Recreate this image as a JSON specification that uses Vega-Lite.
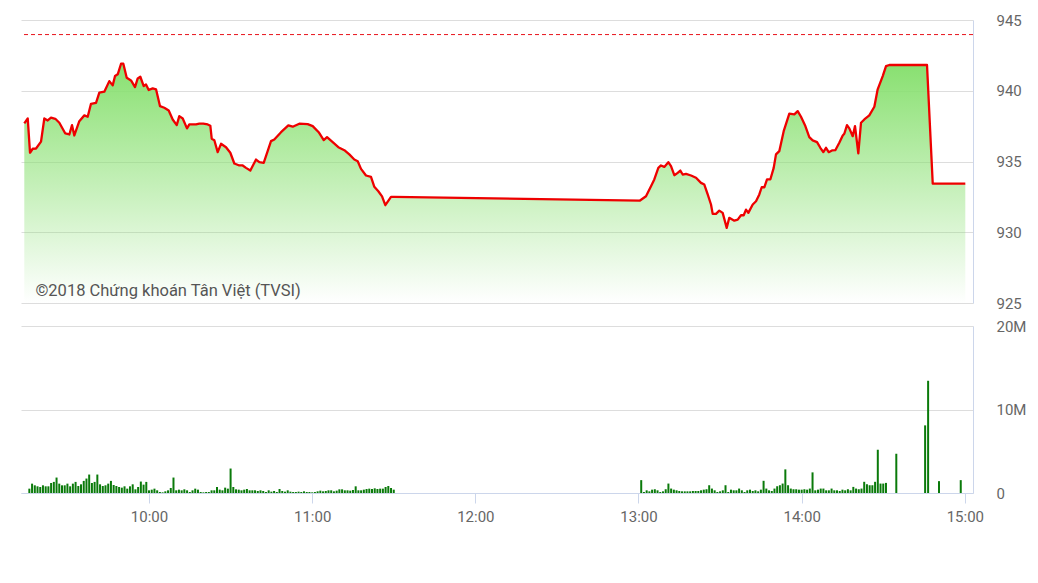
{
  "$schema": "https://vega.github.io/schema/vega-lite/v6.json",
  "background": "white",
  "padding": {"left": 20, "top": 13, "right": 0, "bottom": 0},
  "spacing": 23,
  "bounds": "flush",
  "config": {"view": {"stroke": null}, "font": "Roboto"},
  "vconcat": [
    {
      "width": 952,
      "height": 283,
      "layer": [
        {
          "data": {
            "format": {"parse": {"t": "date:'%H:%M:%S'"}},
            "values": [
              {"t": "09:15:58", "v": 937.69}, {"t": "09:17:13", "v": 938.04}, {"t": "09:18:03", "v": 935.62},
              {"t": "09:19:02", "v": 935.90}, {"t": "09:20:14", "v": 935.92}, {"t": "09:22:03", "v": 936.40},
              {"t": "09:23:15", "v": 938.04}, {"t": "09:24:29", "v": 937.90}, {"t": "09:25:41", "v": 938.10},
              {"t": "09:27:15", "v": 938.02}, {"t": "09:28:43", "v": 937.74}, {"t": "09:30:53", "v": 936.98},
              {"t": "09:32:21", "v": 936.91}, {"t": "09:33:20", "v": 937.57}, {"t": "09:34:10", "v": 936.84},
              {"t": "09:35:59", "v": 937.85}, {"t": "09:37:49", "v": 938.26}, {"t": "09:39:02", "v": 938.16},
              {"t": "09:40:14", "v": 939.08}, {"t": "09:42:04", "v": 939.15}, {"t": "09:43:16", "v": 939.86},
              {"t": "09:45:05", "v": 939.93}, {"t": "09:46:54", "v": 940.68}, {"t": "09:48:08", "v": 940.38},
              {"t": "09:48:59", "v": 941.04}, {"t": "09:49:58", "v": 941.16}, {"t": "09:51:10", "v": 941.91},
              {"t": "09:52:00", "v": 941.91}, {"t": "09:53:14", "v": 940.92}, {"t": "09:54:48", "v": 940.73},
              {"t": "09:56:15", "v": 940.26}, {"t": "09:57:14", "v": 940.87}, {"t": "09:58:11", "v": 940.99},
              {"t": "09:59:25", "v": 940.33}, {"t": "10:00:15", "v": 940.45}, {"t": "10:01:14", "v": 940.05},
              {"t": "10:02:41", "v": 940.17}, {"t": "10:03:54", "v": 940.10}, {"t": "10:05:21", "v": 938.91},
              {"t": "10:06:55", "v": 938.80}, {"t": "10:08:31", "v": 938.61}, {"t": "10:09:58", "v": 937.97},
              {"t": "10:11:26", "v": 937.57}, {"t": "10:12:22", "v": 938.21}, {"t": "10:13:37", "v": 938.04},
              {"t": "10:15:10", "v": 937.34}, {"t": "10:16:01", "v": 937.62}, {"t": "10:18:27", "v": 937.62},
              {"t": "10:19:39", "v": 937.67}, {"t": "10:21:06", "v": 937.67}, {"t": "10:22:42", "v": 937.62},
              {"t": "10:23:39", "v": 937.53}, {"t": "10:24:10", "v": 936.61}, {"t": "10:25:07", "v": 936.50},
              {"t": "10:26:20", "v": 935.66}, {"t": "10:27:33", "v": 936.25}, {"t": "10:29:22", "v": 936.01},
              {"t": "10:30:56", "v": 935.62}, {"t": "10:32:23", "v": 934.86}, {"t": "10:34:12", "v": 934.72},
              {"t": "10:35:26", "v": 934.72}, {"t": "10:36:38", "v": 934.55}, {"t": "10:38:13", "v": 934.36},
              {"t": "10:40:17", "v": 935.14}, {"t": "10:41:29", "v": 934.95}, {"t": "10:43:05", "v": 934.91},
              {"t": "10:45:44", "v": 936.44}, {"t": "10:46:56", "v": 936.56}, {"t": "10:49:23", "v": 937.07},
              {"t": "10:52:02", "v": 937.55}, {"t": "10:53:38", "v": 937.46}, {"t": "10:56:02", "v": 937.67},
              {"t": "10:59:05", "v": 937.64}, {"t": "11:00:55", "v": 937.50}, {"t": "11:03:05", "v": 937.07},
              {"t": "11:04:55", "v": 936.51}, {"t": "11:06:07", "v": 936.72}, {"t": "11:08:11", "v": 936.37},
              {"t": "11:10:14", "v": 936.01}, {"t": "11:12:25", "v": 935.80}, {"t": "11:14:14", "v": 935.50},
              {"t": "11:16:03", "v": 935.14}, {"t": "11:17:17", "v": 935.02}, {"t": "11:18:29", "v": 934.48},
              {"t": "11:20:18", "v": 934.01}, {"t": "11:22:07", "v": 933.92}, {"t": "11:23:20", "v": 933.21},
              {"t": "11:24:47", "v": 932.90}, {"t": "11:26:08", "v": 932.54}, {"t": "11:27:20", "v": 931.91},
              {"t": "11:29:24", "v": 932.50}, {"t": "11:30:30", "v": 932.50},
              {"t": "13:00:00", "v": 932.24}, {"t": "13:02:11", "v": 932.54}, {"t": "13:04:00", "v": 933.25},
              {"t": "13:05:12", "v": 933.73}, {"t": "13:06:40", "v": 934.55}, {"t": "13:07:38", "v": 934.72},
              {"t": "13:08:50", "v": 934.62}, {"t": "13:10:18", "v": 934.95}, {"t": "13:11:17", "v": 934.67},
              {"t": "13:12:29", "v": 934.03}, {"t": "13:13:43", "v": 934.20}, {"t": "13:14:40", "v": 934.36},
              {"t": "13:15:32", "v": 934.08}, {"t": "13:16:44", "v": 934.13}, {"t": "13:18:34", "v": 934.01},
              {"t": "13:20:23", "v": 933.85}, {"t": "13:22:12", "v": 933.49}, {"t": "13:23:24", "v": 933.37},
              {"t": "13:24:38", "v": 932.67}, {"t": "13:25:50", "v": 931.96}, {"t": "13:26:27", "v": 931.30},
              {"t": "13:27:39", "v": 931.30}, {"t": "13:28:51", "v": 931.53}, {"t": "13:30:05", "v": 931.37},
              {"t": "13:31:33", "v": 930.31}, {"t": "13:32:29", "v": 931.02}, {"t": "13:34:19", "v": 930.82},
              {"t": "13:35:33", "v": 930.89}, {"t": "13:36:45", "v": 931.20}, {"t": "13:37:44", "v": 931.20},
              {"t": "13:38:34", "v": 931.60}, {"t": "13:39:25", "v": 931.37}, {"t": "13:41:01", "v": 931.96},
              {"t": "13:42:13", "v": 932.19}, {"t": "13:43:25", "v": 932.67}, {"t": "13:44:17", "v": 933.18},
              {"t": "13:45:14", "v": 933.18}, {"t": "13:46:13", "v": 933.73}, {"t": "13:47:25", "v": 933.73},
              {"t": "13:48:39", "v": 934.55}, {"t": "13:49:29", "v": 935.50}, {"t": "13:50:41", "v": 935.73},
              {"t": "13:52:17", "v": 937.14}, {"t": "13:54:20", "v": 938.38}, {"t": "13:56:09", "v": 938.33},
              {"t": "13:57:23", "v": 938.56}, {"t": "13:58:35", "v": 938.16}, {"t": "14:00:02", "v": 937.57},
              {"t": "14:01:36", "v": 936.72}, {"t": "14:02:50", "v": 936.49}, {"t": "14:04:25", "v": 936.37},
              {"t": "14:05:37", "v": 935.97}, {"t": "14:06:42", "v": 935.66}, {"t": "14:07:41", "v": 935.97},
              {"t": "14:08:40", "v": 935.66}, {"t": "14:09:52", "v": 935.78}, {"t": "14:11:04", "v": 935.80},
              {"t": "14:12:31", "v": 936.32}, {"t": "14:13:46", "v": 936.84}, {"t": "14:14:20", "v": 936.96},
              {"t": "14:15:19", "v": 937.57}, {"t": "14:16:10", "v": 937.34}, {"t": "14:17:24", "v": 936.79},
              {"t": "14:18:14", "v": 937.50}, {"t": "14:19:26", "v": 935.57}, {"t": "14:20:25", "v": 937.74},
              {"t": "14:21:37", "v": 937.97}, {"t": "14:23:26", "v": 938.26}, {"t": "14:25:16", "v": 938.87},
              {"t": "14:26:29", "v": 940.10}, {"t": "14:28:19", "v": 941.04}, {"t": "14:29:31", "v": 941.74},
              {"t": "14:30:43", "v": 941.82}, {"t": "14:44:26", "v": 941.82}, {"t": "14:46:31", "v": 933.43},
              {"t": "14:58:22", "v": 933.43}
            ]
          },
          "layer": [
            {
              "mark": {
                "type": "area",
                "line": false,
                "fill": {
                  "gradient": "linear",
                  "x1": 0, "y1": 0, "x2": 0, "y2": 1,
                  "stops": [
                    {"offset": 0, "color": "rgba(136,224,112,1)"},
                    {"offset": 1, "color": "rgba(136,224,112,0)"}
                  ]
                }
              },
              "encoding": {
                "x": {"field": "t", "type": "temporal", "axis": null,
                  "scale": {"nice": false, "domain": [
                    {"year": 1900, "month": 1, "date": 1, "hours": 9, "minutes": 14, "seconds": 46},
                    {"year": 1900, "month": 1, "date": 1, "hours": 15, "minutes": 1, "seconds": 10}]}},
                "y": {"field": "v", "type": "quantitative",
                  "scale": {"domain": [925, 945], "zero": false, "nice": false},
                  "axis": {"orient": "right", "values": [925, 930, 935, 940, 945], "title": null,
                    "grid": true, "gridColor": "#dddddd", "ticks": false, "domainColor": "#ccd6eb",
                    "labelPadding": 23, "labelColor": "#666666", "labelFontSize": 15, "labelFlush": false}},
                "y2": {"datum": 925}
              }
            },
            {
              "mark": {"type": "line", "color": "#ee0000", "strokeWidth": 2.3, "strokeJoin": "round"},
              "encoding": {
                "x": {"field": "t", "type": "temporal"},
                "y": {"field": "v", "type": "quantitative"}
              }
            }
          ]
        },
        {
          "data": {"values": [{}]},
          "mark": {"type": "rule", "color": "#e8141c", "strokeWidth": 1, "strokeDash": [4, 3]},
          "encoding": {"y": {"datum": 943.97}}
        },
        {
          "data": {"values": [{}]},
          "mark": {"type": "text", "align": "left", "baseline": "middle", "fontSize": 16.5, "color": "#555555", "text": "©2018 Chứng khoán Tân Việt (TVSI)"},
          "encoding": {
            "x": {"datum": {"year": 1900, "month": 1, "date": 1, "hours": 9, "minutes": 20, "seconds": 0}},
            "y": {"datum": 925.85}
          }
        }
      ]
    },
    {
      "width": 952,
      "height": 167,
      "data": {
        "format": {"parse": {"t": "date:'%H:%M:%S'"}},
        "values": [
          {"t": "09:16:00", "vol": 0.52}, {"t": "09:17:00", "vol": 1.12}, {"t": "09:18:00", "vol": 0.92}, {"t": "09:19:00", "vol": 0.80},
          {"t": "09:20:00", "vol": 0.72}, {"t": "09:21:00", "vol": 0.92}, {"t": "09:22:00", "vol": 0.80}, {"t": "09:23:00", "vol": 0.80},
          {"t": "09:24:00", "vol": 1.20}, {"t": "09:25:00", "vol": 1.33}, {"t": "09:26:00", "vol": 1.85}, {"t": "09:27:00", "vol": 1.12},
          {"t": "09:28:00", "vol": 0.92}, {"t": "09:29:00", "vol": 0.92}, {"t": "09:30:00", "vol": 1.12}, {"t": "09:31:00", "vol": 0.80},
          {"t": "09:32:00", "vol": 1.12}, {"t": "09:33:00", "vol": 1.33}, {"t": "09:34:00", "vol": 0.84}, {"t": "09:35:00", "vol": 1.04},
          {"t": "09:36:00", "vol": 1.45}, {"t": "09:37:00", "vol": 1.73}, {"t": "09:38:00", "vol": 2.21}, {"t": "09:39:00", "vol": 1.20},
          {"t": "09:40:00", "vol": 1.33}, {"t": "09:41:00", "vol": 2.21}, {"t": "09:42:00", "vol": 1.04}, {"t": "09:43:00", "vol": 0.84},
          {"t": "09:44:00", "vol": 0.92}, {"t": "09:45:00", "vol": 1.12}, {"t": "09:46:00", "vol": 1.45}, {"t": "09:47:00", "vol": 0.96},
          {"t": "09:48:00", "vol": 0.84}, {"t": "09:49:00", "vol": 0.72}, {"t": "09:50:00", "vol": 0.64}, {"t": "09:51:00", "vol": 0.80},
          {"t": "09:52:00", "vol": 0.52}, {"t": "09:53:00", "vol": 0.80}, {"t": "09:54:00", "vol": 1.04}, {"t": "09:55:00", "vol": 0.44},
          {"t": "09:56:00", "vol": 0.72}, {"t": "09:57:00", "vol": 1.37}, {"t": "09:58:00", "vol": 1.00}, {"t": "09:59:00", "vol": 1.33},
          {"t": "10:00:00", "vol": 0.32}, {"t": "10:01:00", "vol": 0.40}, {"t": "10:02:00", "vol": 0.52}, {"t": "10:03:00", "vol": 0.32},
          {"t": "10:04:00", "vol": 0.12}, {"t": "10:05:00", "vol": 0.08}, {"t": "10:06:00", "vol": 0.20}, {"t": "10:07:00", "vol": 0.32},
          {"t": "10:08:00", "vol": 0.60}, {"t": "10:09:00", "vol": 1.85}, {"t": "10:10:00", "vol": 0.32}, {"t": "10:11:00", "vol": 0.40},
          {"t": "10:12:00", "vol": 0.32}, {"t": "10:13:00", "vol": 0.44}, {"t": "10:14:00", "vol": 0.32}, {"t": "10:15:00", "vol": 0.12},
          {"t": "10:16:00", "vol": 0.32}, {"t": "10:17:00", "vol": 0.52}, {"t": "10:18:00", "vol": 0.40}, {"t": "10:19:00", "vol": 0.12},
          {"t": "10:20:00", "vol": 0.08}, {"t": "10:21:00", "vol": 0.12}, {"t": "10:22:00", "vol": 0.12}, {"t": "10:23:00", "vol": 0.32},
          {"t": "10:24:00", "vol": 0.32}, {"t": "10:25:00", "vol": 0.72}, {"t": "10:26:00", "vol": 0.40}, {"t": "10:27:00", "vol": 0.32},
          {"t": "10:28:00", "vol": 0.64}, {"t": "10:29:00", "vol": 0.52}, {"t": "10:30:00", "vol": 2.93}, {"t": "10:31:00", "vol": 0.72},
          {"t": "10:32:00", "vol": 0.44}, {"t": "10:33:00", "vol": 0.40}, {"t": "10:34:00", "vol": 0.32}, {"t": "10:35:00", "vol": 0.40},
          {"t": "10:36:00", "vol": 0.48}, {"t": "10:37:00", "vol": 0.32}, {"t": "10:38:00", "vol": 0.32}, {"t": "10:39:00", "vol": 0.32},
          {"t": "10:40:00", "vol": 0.24}, {"t": "10:41:00", "vol": 0.32}, {"t": "10:42:00", "vol": 0.24}, {"t": "10:43:00", "vol": 0.12},
          {"t": "10:44:00", "vol": 0.32}, {"t": "10:45:00", "vol": 0.16}, {"t": "10:46:00", "vol": 0.24}, {"t": "10:47:00", "vol": 0.12},
          {"t": "10:48:00", "vol": 0.48}, {"t": "10:49:00", "vol": 0.24}, {"t": "10:50:00", "vol": 0.16}, {"t": "10:51:00", "vol": 0.32},
          {"t": "10:52:00", "vol": 0.16}, {"t": "10:53:00", "vol": 0.12}, {"t": "10:54:00", "vol": 0.12}, {"t": "10:55:00", "vol": 0.16},
          {"t": "10:56:00", "vol": 0.12}, {"t": "10:57:00", "vol": 0.20}, {"t": "10:58:00", "vol": 0.12}, {"t": "10:59:00", "vol": 0.12},
          {"t": "11:00:00", "vol": 0.08}, {"t": "11:01:00", "vol": 0.12}, {"t": "11:02:00", "vol": 0.20}, {"t": "11:03:00", "vol": 0.28},
          {"t": "11:04:00", "vol": 0.20}, {"t": "11:05:00", "vol": 0.24}, {"t": "11:06:00", "vol": 0.32}, {"t": "11:07:00", "vol": 0.32},
          {"t": "11:08:00", "vol": 0.20}, {"t": "11:09:00", "vol": 0.28}, {"t": "11:10:00", "vol": 0.44}, {"t": "11:11:00", "vol": 0.44},
          {"t": "11:12:00", "vol": 0.32}, {"t": "11:13:00", "vol": 0.32}, {"t": "11:14:00", "vol": 0.28}, {"t": "11:15:00", "vol": 0.36},
          {"t": "11:16:00", "vol": 0.80}, {"t": "11:17:00", "vol": 0.32}, {"t": "11:18:00", "vol": 0.32}, {"t": "11:19:00", "vol": 0.40},
          {"t": "11:20:00", "vol": 0.48}, {"t": "11:21:00", "vol": 0.52}, {"t": "11:22:00", "vol": 0.48}, {"t": "11:23:00", "vol": 0.56},
          {"t": "11:24:00", "vol": 0.48}, {"t": "11:25:00", "vol": 0.52}, {"t": "11:26:00", "vol": 0.52}, {"t": "11:27:00", "vol": 0.72},
          {"t": "11:28:00", "vol": 0.84}, {"t": "11:29:00", "vol": 0.60}, {"t": "11:30:00", "vol": 0.40},
          {"t": "13:01:00", "vol": 1.54}, {"t": "13:02:00", "vol": 0.12}, {"t": "13:03:00", "vol": 0.32}, {"t": "13:04:00", "vol": 0.20},
          {"t": "13:05:00", "vol": 0.40}, {"t": "13:06:00", "vol": 0.45}, {"t": "13:07:00", "vol": 0.32}, {"t": "13:08:00", "vol": 0.12},
          {"t": "13:09:00", "vol": 0.20}, {"t": "13:10:00", "vol": 0.45}, {"t": "13:11:00", "vol": 1.13}, {"t": "13:12:00", "vol": 0.53},
          {"t": "13:13:00", "vol": 0.40}, {"t": "13:14:00", "vol": 0.32}, {"t": "13:15:00", "vol": 0.24}, {"t": "13:16:00", "vol": 0.20},
          {"t": "13:17:00", "vol": 0.20}, {"t": "13:18:00", "vol": 0.20}, {"t": "13:19:00", "vol": 0.20}, {"t": "13:20:00", "vol": 0.24},
          {"t": "13:21:00", "vol": 0.24}, {"t": "13:22:00", "vol": 0.24}, {"t": "13:23:00", "vol": 0.32}, {"t": "13:24:00", "vol": 0.40},
          {"t": "13:25:00", "vol": 0.45}, {"t": "13:26:00", "vol": 0.93}, {"t": "13:27:00", "vol": 0.53}, {"t": "13:28:00", "vol": 0.32},
          {"t": "13:29:00", "vol": 0.12}, {"t": "13:30:00", "vol": 0.20}, {"t": "13:31:00", "vol": 0.32}, {"t": "13:32:00", "vol": 0.93},
          {"t": "13:33:00", "vol": 0.12}, {"t": "13:34:00", "vol": 0.40}, {"t": "13:35:00", "vol": 0.32}, {"t": "13:36:00", "vol": 0.32},
          {"t": "13:37:00", "vol": 0.53}, {"t": "13:38:00", "vol": 0.32}, {"t": "13:39:00", "vol": 0.12}, {"t": "13:40:00", "vol": 0.32},
          {"t": "13:41:00", "vol": 0.40}, {"t": "13:42:00", "vol": 0.24}, {"t": "13:43:00", "vol": 0.32}, {"t": "13:44:00", "vol": 0.20},
          {"t": "13:45:00", "vol": 0.40}, {"t": "13:46:00", "vol": 1.46}, {"t": "13:47:00", "vol": 0.53}, {"t": "13:48:00", "vol": 0.32},
          {"t": "13:49:00", "vol": 0.24}, {"t": "13:50:00", "vol": 0.53}, {"t": "13:51:00", "vol": 0.81}, {"t": "13:52:00", "vol": 0.93},
          {"t": "13:53:00", "vol": 1.13}, {"t": "13:54:00", "vol": 2.83}, {"t": "13:55:00", "vol": 0.93}, {"t": "13:56:00", "vol": 0.53},
          {"t": "13:57:00", "vol": 0.45}, {"t": "13:58:00", "vol": 0.45}, {"t": "13:59:00", "vol": 0.40}, {"t": "14:00:00", "vol": 0.40},
          {"t": "14:01:00", "vol": 0.45}, {"t": "14:02:00", "vol": 0.40}, {"t": "14:03:00", "vol": 0.53}, {"t": "14:04:00", "vol": 2.47},
          {"t": "14:05:00", "vol": 0.32}, {"t": "14:06:00", "vol": 0.40}, {"t": "14:07:00", "vol": 0.53}, {"t": "14:08:00", "vol": 0.53},
          {"t": "14:09:00", "vol": 0.32}, {"t": "14:10:00", "vol": 0.32}, {"t": "14:11:00", "vol": 0.53}, {"t": "14:12:00", "vol": 0.32},
          {"t": "14:13:00", "vol": 0.32}, {"t": "14:14:00", "vol": 0.24}, {"t": "14:15:00", "vol": 0.40}, {"t": "14:16:00", "vol": 0.32},
          {"t": "14:17:00", "vol": 0.45}, {"t": "14:18:00", "vol": 0.32}, {"t": "14:19:00", "vol": 0.73}, {"t": "14:20:00", "vol": 0.53},
          {"t": "14:21:00", "vol": 0.45}, {"t": "14:22:00", "vol": 0.53}, {"t": "14:23:00", "vol": 1.34}, {"t": "14:24:00", "vol": 1.05},
          {"t": "14:25:00", "vol": 0.93}, {"t": "14:26:00", "vol": 0.93}, {"t": "14:27:00", "vol": 1.34}, {"t": "14:28:00", "vol": 5.18},
          {"t": "14:29:00", "vol": 1.13}, {"t": "14:30:00", "vol": 1.13}, {"t": "14:31:00", "vol": 1.21}, {"t": "14:34:48", "vol": 4.70},
          {"t": "14:45:24", "vol": 8.10}, {"t": "14:46:30", "vol": 13.44}, {"t": "14:50:30", "vol": 1.42}, {"t": "14:58:30", "vol": 1.54}
        ]
      },
      "mark": {"type": "bar", "size": 2, "color": "#0a7a0a"},
      "encoding": {
        "x": {"field": "t", "type": "temporal",
          "scale": {"nice": false, "domain": [
            {"year": 1900, "month": 1, "date": 1, "hours": 9, "minutes": 14, "seconds": 46},
            {"year": 1900, "month": 1, "date": 1, "hours": 15, "minutes": 1, "seconds": 10}]},
          "axis": {"title": null, "format": "%H:%M", "grid": false, "labelFlush": false,
            "values": [
              {"year": 1900, "month": 1, "date": 1, "hours": 10},
              {"year": 1900, "month": 1, "date": 1, "hours": 11},
              {"year": 1900, "month": 1, "date": 1, "hours": 12},
              {"year": 1900, "month": 1, "date": 1, "hours": 13},
              {"year": 1900, "month": 1, "date": 1, "hours": 14},
              {"year": 1900, "month": 1, "date": 1, "hours": 15}],
            "domainColor": "#ccd6eb", "tickColor": "#ccd6eb", "tickSize": 10, "labelPadding": 6,
            "labelColor": "#666666", "labelFontSize": 15}},
        "y": {"field": "vol", "type": "quantitative",
          "scale": {"domain": [0, 20], "nice": false},
          "axis": {"orient": "right", "values": [0, 10, 20], "title": null, "grid": true, "gridColor": "#dddddd",
            "ticks": false, "domainColor": "#ccd6eb", "labelPadding": 23, "labelColor": "#666666",
            "labelFontSize": 15, "labelFlush": false,
            "labelExpr": "datum.value == 0 ? '0' : datum.value + 'M'"}}
      }
    }
  ]
}
